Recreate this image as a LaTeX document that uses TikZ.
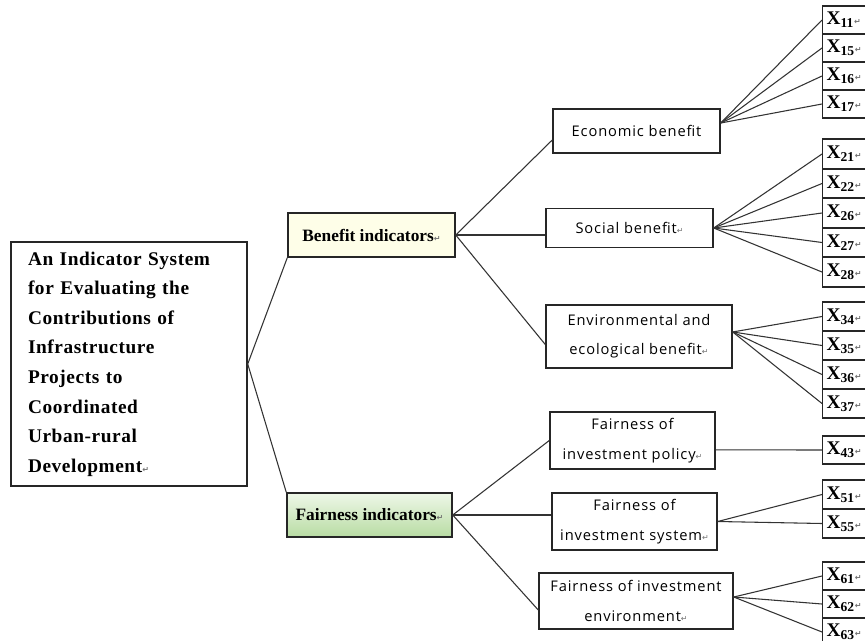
\documentclass[tikz,border=0pt]{standalone}
\usepackage{fontspec}
\setmainfont{Liberation Serif}
\newfontfamily\midfont[LetterSpace=6]{Open Sans}
\newfontfamily\rootfont[LetterSpace=3]{Liberation Serif}
\newfontfamily\symfont{DejaVu Sans}
\newcommand{\pmark}{{\symfont\fontsize{6pt}{6pt}\selectfont\color{black!55}↵}}
\definecolor{benfill}{HTML}{FEFEE8}
\definecolor{fairtop}{HTML}{EEF7E8}
\definecolor{fairbot}{HTML}{B8DCA3}
\tikzset{
  lnk/.style={draw=black!80, line width=0.8pt},
  box/.style={draw=black!85, line width=1.1pt, inner sep=0pt, align=center},
  midbox/.style={box, font=\midfont\fontsize{11pt}{22pt}\selectfont},
  catbox/.style={box, font=\bfseries\fontsize{13pt}{15pt}\selectfont},
  xbox/.style={draw=black!85, line width=1.1pt, anchor=west, inner xsep=3pt, inner ysep=0pt,
    text width=39pt, align=left, font=\bfseries\fontsize{14.5pt}{15pt}\selectfont}
}
\begin{document}
\begin{tikzpicture}[x=0.75pt,y=-0.75pt]
\useasboundingbox (0,0) rectangle (865,640);
\clip (0,0) rectangle (865,640);
\fill[white] (0,0) rectangle (865,640);

% root
\node[box, align=left, text width=151.5pt, inner xsep=12.75pt, minimum width=177pt, minimum height=183pt,
  font=\rootfont\bfseries\fontsize{14.5pt}{22.2pt}\selectfont] (root) at (129,364)
  {An Indicator System\\for Evaluating the\\Contributions of\\Infrastructure\\Projects to\\Coordinated\\Urban-rural\\Development\pmark};

% categories
\node[catbox, fill=benfill, minimum width=125.25pt, minimum height=33pt] (benefit) at (371.5,235) {Benefit indicators\pmark};
\node[catbox, top color=fairtop, bottom color=fairbot, minimum width=123.75pt, minimum height=33pt] (fairness) at (369.5,515) {Fairness indicators\pmark};

% sub-categories
\node[midbox, minimum width=125.25pt, minimum height=33pt] (econ) at (636.5,131) {Economic benefit};
\node[midbox, minimum width=125.25pt, minimum height=29.25pt] (social) at (629.5,228) {Social benefit\pmark};
\node[midbox, minimum width=139.5pt, minimum height=47.25pt] (env) at (639,336.5) {Environmental and\\ecological benefit\pmark};
\node[midbox, minimum width=123.75pt, minimum height=42.75pt] (policy) at (632.5,440.5) {Fairness of\\investment policy\pmark};
\node[midbox, minimum width=123.75pt, minimum height=42.75pt] (system) at (634.5,521.5) {Fairness of\\investment system\pmark};
\node[midbox, minimum width=145.5pt, minimum height=42pt] (fenv) at (636,601) {Fairness of investment\\environment\pmark};

% indicator boxes
\foreach \n/\yy/\hh in {11/20/21, 15/48/21, 16/76/21, 17/104/21,
    21/154/22.2, 22/183.5/22.2, 26/213/22.2, 27/242.5/22.2, 28/272/22.2,
    34/316.5/21.75, 35/345.5/21.75, 36/374.5/21.75, 37/403.5/21.75,
    43/450/21,
    51/494.5/21.75, 55/523.5/21.75,
    61/576/21, 62/604/21, 63/632/21}
  \node[xbox, minimum height=\hh pt] (x\n) at (822,\yy) {X\textsubscript{\n}\pmark};

% connectors
\draw[lnk] (root.east) -- (benefit.south west);
\draw[lnk] (root.east) -- (fairness.north west);

\draw[lnk] (benefit.east) -- ([yshift=-6.75pt]econ.west);
\draw[lnk] (benefit.east) -- (benefit.east -| social.west);
\draw[lnk] (benefit.east) -- ([yshift=-6pt]env.west);

\draw[lnk] (fairness.east) -- (policy.west);
\draw[lnk] (fairness.east) -- (fairness.east -| system.west);
\draw[lnk] (fairness.east) -- ([yshift=-6.75pt]fenv.west);

\foreach \t in {11,15,16,17} \draw[lnk] ([yshift=6pt]econ.east) -- (x\t.west);
\foreach \t in {21,22,26,27,28} \draw[lnk] (social.east) -- (x\t.west);
\foreach \t in {34,35,36,37} \draw[lnk] ([yshift=3.4pt]env.east) -- (x\t.west);
\draw[lnk] ([yshift=-7pt]policy.east) -- (x43.west);
\foreach \t in {51,55} \draw[lnk] (system.east) -- (x\t.west);
\foreach \t in {61,62,63} \draw[lnk] ([yshift=3pt]fenv.east) -- (x\t.west);
\end{tikzpicture}
\end{document}
